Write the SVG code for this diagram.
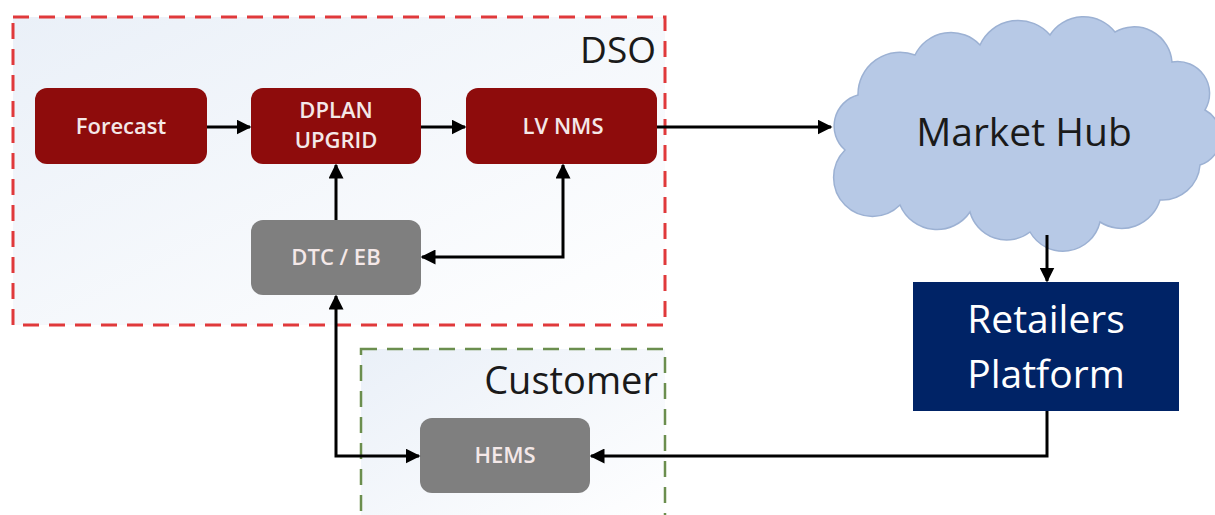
<svg xmlns="http://www.w3.org/2000/svg" width="1215" height="515" viewBox="0 0 1215 515">
<defs>
<linearGradient id="bg" x1="0" y1="0" x2="1" y2="1">
<stop offset="0" stop-color="#eaf0f8"/>
<stop offset="1" stop-color="#ffffff"/>
</linearGradient>
<marker id="ah" viewBox="0 0 10 10" refX="9" refY="5" markerWidth="5" markerHeight="5" orient="auto-start-reverse" markerUnits="strokeWidth">
<path d="M0,0 L10,5 L0,10 Z" fill="#000"/>
</marker>
<style>
.red{fill:#8e0c0c}
.gray{fill:#7f7f7f}
.nt{font-family:"Open Sans","Liberation Sans",sans-serif;font-size:22px;font-weight:600;fill:#f4e8e8;text-anchor:middle}
.big{font-family:"Open Sans","Liberation Sans",sans-serif;fill:#1a1a1a}
.wt{font-family:"Open Sans","Liberation Sans",sans-serif;font-size:39px;fill:#ffffff;text-anchor:middle}
.con{fill:none;stroke:#000;stroke-width:3;marker-end:url(#ah)}
</style>
</defs>
<rect width="1215" height="515" fill="#ffffff"/>
<g id="dso">
<rect x="13" y="17" width="652" height="308" fill="url(#bg)" stroke="#e0393b" stroke-width="3" stroke-dasharray="16 10"/>
<text class="big" x="656" y="63" font-size="37" text-anchor="end">DSO</text>
</g>
<g id="customer">
<rect x="361" y="349" width="304" height="180" fill="url(#bg)" stroke="#6b8e4e" stroke-width="2.5" stroke-dasharray="16 10"/>
<text class="big" x="658" y="394" font-size="38" text-anchor="end">Customer</text>
</g>
<g id="forecast">
<rect class="red" x="35" y="88" width="172" height="76" rx="12"/>
<text class="nt" x="121" y="134">Forecast</text>
</g>
<g id="dplan">
<rect class="red" x="251" y="88" width="170" height="76" rx="12"/>
<text class="nt" x="336" y="118">DPLAN</text>
<text class="nt" x="336" y="148">UPGRID</text>
</g>
<g id="lvnms">
<rect class="red" x="466" y="88" width="191" height="76" rx="12"/>
<text class="nt" x="563" y="134">LV NMS</text>
</g>
<g id="dtc">
<rect class="gray" x="251" y="220" width="170" height="75" rx="12"/>
<text class="nt" x="336" y="265">DTC / EB</text>
</g>
<g id="hems">
<rect class="gray" x="420" y="418" width="170" height="75" rx="12"/>
<text class="nt" x="505" y="463">HEMS</text>
</g>
<g id="markethub">
<path d="M845,150 A32 32 0 0 1 858,95 A42 42 0 0 1 915,55 A40 40 0 0 1 980,45 A42 42 0 0 1 1050,35 A40 40 0 0 1 1115,32 A38 38 0 0 1 1172,62 A32 32 0 0 1 1205,110 A30 30 0 0 1 1200,165 A38 38 0 0 1 1160,200 A40 40 0 0 1 1100,222 A38 38 0 0 1 1030,232 A38 38 0 0 1 970,212 A40 40 0 0 1 900,205 A32 32 0 0 1 845,150 Z" fill="#b7c9e6" stroke="#9cb1d3" stroke-width="1.5"/>
<text class="big" x="1024" y="146" font-size="39" text-anchor="middle">Market Hub</text>
</g>
<g id="retailers">
<rect x="913" y="282" width="266" height="129" fill="#002366"/>
<text class="wt" x="1046" y="333">Retailers</text>
<text class="wt" x="1046" y="388">Platform</text>
</g>
<g id="connectors">
<line class="con" x1="207" y1="127" x2="250" y2="127"/>
<line class="con" x1="421" y1="127" x2="465" y2="127"/>
<line class="con" x1="657" y1="127" x2="831" y2="127"/>
<line class="con" x1="336" y1="220" x2="336" y2="165"/>
<polyline class="con" points="563,165 563,257 422,257" style="marker-start:url(#ah)"/>
<polyline class="con" points="336,296 336,456 419,456" style="marker-start:url(#ah)"/>
<line class="con" x1="1047" y1="235" x2="1047" y2="281"/>
<polyline class="con" points="1047,411 1047,456 591,456"/>
</g>
</svg>
